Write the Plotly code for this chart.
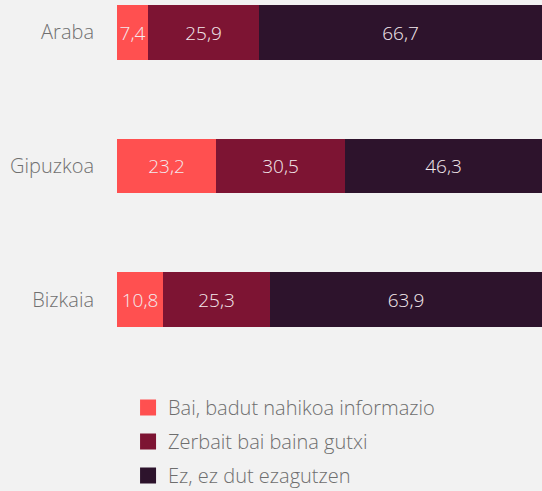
import plotly.graph_objects as go

regions = ["Araba", "Gipuzkoa", "Bizkaia"]
series_names = ["Bai, badut nahikoa informazio", "Zerbait bai baina gutxi", "Ez, ez dut ezagutzen"]
bai = [7.4, 23.2, 10.8]
zerbait = [25.9, 30.5, 25.3]
ez = [66.7, 46.3, 63.9]
colors = ["#FF5050", "#7D1433", "#2D132C"]

font_family = "Open Sans, Noto Sans, sans-serif"
fig = go.Figure()

for name, vals, col in zip(series_names, [bai, zerbait, ez], colors):
    fig.add_trace(go.Bar(
        y=regions, x=vals, orientation="h", name=name,
        marker=dict(color=col, line=dict(width=0)),
        text=[f"{v:.1f}".replace(".", ",") for v in vals],
        textposition="inside", insidetextanchor="middle",
        textangle=0, constraintext="none",
        textfont=dict(color="#F4EAEE", size=19, family=font_family, weight=300),
        width=0.41, showlegend=False, hoverinfo="skip",
    ))

# legend entries with larger square swatches
for i, (name, col) in enumerate(zip(series_names, colors)):
    fig.add_trace(go.Scatter(
        x=[None], y=[None], mode="markers", name=name,
        marker=dict(symbol="square", size=16, color=col),
        legendgroup=f"g{i}", showlegend=True,
    ))

fig.update_layout(
    barmode="stack",
    width=542, height=491,
    paper_bgcolor="#F2F2F2", plot_bgcolor="#F2F2F2",
    margin=dict(l=117, r=0, t=0, b=131),
    bargap=0,
    xaxis=dict(range=[0, 100], visible=False, fixedrange=True),
    yaxis=dict(range=[2.453, -0.243], showgrid=False, zeroline=False, showline=False,
               ticks="", ticklabelstandoff=22,
               tickfont=dict(size=20, color="#707070", family=font_family, weight=300)),
    showlegend=True,
    legend=dict(
        orientation="v", x=0.026, xanchor="left",
        y=1 - 388 / 491, yref="container", yanchor="top",
        font=dict(size=20, color="#6E6E6E", family=font_family, weight=300),
        bgcolor="rgba(0,0,0,0)", tracegroupgap=5, itemsizing="trace",
    ),
)

fig.write_html("out.html")
